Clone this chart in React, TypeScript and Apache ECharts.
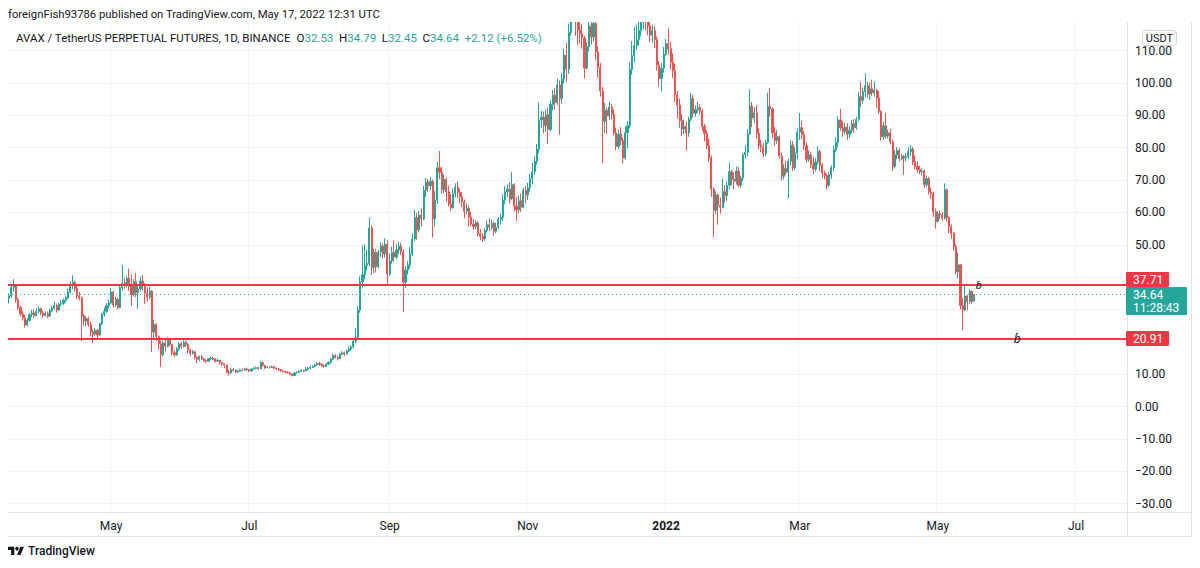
import React, { useEffect, useRef } from "react";
import * as echarts from "echarts";

const UP = "#26a69a";
const DOWN = "#ef5350";
const LEVEL = "#f23645";
const TEXT = "#131722";
const GRID = "#f0f3fa";
const BORDER = "#e0e3eb";
const FONT = "Roboto, 'Noto Sans', sans-serif";

// View starts on 17 Mar 2021 and runs into late July 2022 (empty future days)
const START_UTC = Date.UTC(2021, 2, 17);
const AXIS_DAYS = 494;
const FIRST_OPEN = 33.5;

// Daily candles as [close, low, high]; each session opens at the previous close
const mar2021 = [[34.2,31.8,35.0],[36.8,33.6,37.8],[37.5,35.5,39.4],[33.0,32.2,37.9],[30.6,29.8,33.6],[28.6,27.8,31.2],[27.4,26.5,29.5],[25.2,24.4,28.4],[26.6,24.8,27.4],[28.4,26.2,29.0],[28.9,27.6,29.9],[28.1,27.4,30.0],[29.4,27.9,30.5],[30.2,28.8,31.0],[29.0,28.2,30.6]];
const apr2021 = [[28.2,27.5,29.6],[28.8,27.8,29.5],[27.9,27.4,29.4],[29.6,27.8,30.2],[30.4,29.2,31.0],[31.2,30.0,32.4],[29.8,29.0,31.8],[31.6,29.6,32.0],[31.9,31.0,33.0],[32.8,31.4,33.4],
  [33.6,32.2,34.2],[35.4,33.2,36.5],[37.8,35.0,38.6],[38.4,36.2,40.6],[36.4,35.6,38.9],[34.2,33.1,37.2],[33.6,32.8,35.4],[28.0,20.2,34.0],[26.4,25.0,28.6],[27.2,24.8,28.0],
  [25.4,24.6,27.8],[23.0,21.6,26.2],[22.4,19.6,23.8],[23.6,21.8,24.3],[22.1,21.2,24.0],[25.6,21.9,26.0],[28.5,25.2,29.0],[29.4,27.8,30.6],[31.2,28.9,32.0],[32.0,30.4,33.0]];
const may2021 = [[35.4,31.6,36.6],[31.4,30.6,35.8],[33.2,30.8,34.0],[30.6,30.0,33.6],[36.8,30.4,37.6],[38.2,35.8,43.7],[37.4,36.4,39.8],[39.6,36.8,40.4],[37.2,35.8,42.6],[34.6,31.2,40.8],
  [38.6,34.0,39.4],[35.2,33.8,41.2],[36.4,30.2,37.8],[38.8,35.6,40.2],[37.4,36.0,40.6],[35.0,31.8,38.2],[33.8,32.4,36.8],[35.6,33.2,37.0],[23.0,16.8,36.0],[25.4,21.0,26.8],
  [21.6,20.2,25.8],[19.4,17.6,22.0],[16.0,12.2,20.4],[19.6,15.4,20.4],[18.6,17.0,20.6],[20.8,18.2,21.4],[19.2,18.6,21.0],[16.6,15.8,19.4],[16.0,15.2,17.4],[17.8,15.6,18.4],
  [19.4,17.2,19.9]];
const jun2021 = [[18.6,17.8,20.0],[19.8,18.2,20.5],[19.2,18.4,20.4],[17.6,16.4,19.6],[16.4,15.6,17.9],[16.9,16.0,17.5],[15.2,14.6,17.2],[14.6,13.4,15.6],[15.4,14.0,15.8],[14.8,14.4,16.0],
  [14.2,13.8,15.0],[14.0,13.4,14.6],[14.8,13.8,15.0],[15.0,14.4,15.5],[14.7,14.3,15.3],[14.0,13.6,14.9],[14.3,13.8,14.8],[13.6,13.0,14.4],[13.2,12.6,13.8],[12.8,11.8,13.3],
  [10.6,10.2,13.0],[10.4,9.6,11.4],[11.4,10.2,11.9],[11.2,10.8,11.9],[10.7,10.3,11.5],[10.9,10.4,11.3],[11.3,10.7,11.6],[11.2,10.9,11.7],[11.6,11.0,12.0],[11.4,11.1,12.0]];
const jul2021 = [[11.0,10.7,11.6],[11.6,10.8,11.8],[11.8,11.3,12.2],[12.0,11.5,12.4],[11.7,11.4,12.3],[13.6,11.6,14.1],[12.7,12.4,13.9],[12.0,11.6,12.9],[12.2,11.8,12.6],[12.1,11.8,12.5],
  [12.3,11.9,12.7],[11.9,11.6,12.5],[11.6,11.3,12.1],[11.4,11.0,11.9],[11.0,10.7,11.6],[10.8,10.5,11.3],[10.6,10.3,11.0],[10.4,10.1,10.9],[10.0,9.7,10.6],[9.6,9.3,10.2],
  [10.4,9.5,10.6],[10.6,10.2,10.9],[10.9,10.4,11.1],[11.2,10.7,11.5],[11.0,10.7,11.4],[11.6,10.9,12.2],[11.9,11.2,12.2],[12.1,11.7,12.5],[12.4,11.9,12.7],[12.8,12.1,13.1],
  [13.3,12.6,13.7]];
const aug2021 = [[13.0,12.6,13.8],[12.6,12.2,13.4],[12.4,12.0,13.0],[13.1,12.2,13.4],[13.6,12.8,14.0],[14.6,13.3,15.0],[15.8,14.4,16.4],[15.2,14.8,16.2],[14.8,14.2,15.6],[16.2,14.6,16.6],
  [16.6,15.8,17.2],[16.2,15.6,17.0],[17.2,16.0,17.6],[17.8,16.8,18.6],[18.4,17.2,19.0],[20.2,18.0,20.8],[21.4,19.6,24.2],[29.8,21.0,31.0],[38.6,29.0,40.2],[40.8,36.8,49.8],
  [43.6,39.4,50.2],[44.2,42.0,48.6],[55.2,43.4,58.5],[43.0,40.6,56.0],[47.6,41.2,48.8],[43.2,41.4,48.6],[47.8,42.6,48.4],[49.6,46.2,50.8],[47.2,45.8,50.4],[50.2,46.0,52.0],
  [41.0,38.0,51.4]];
const sep2021 = [[45.0,40.4,47.4],[47.6,44.2,49.4],[46.2,44.8,51.4],[48.4,45.6,50.2],[49.6,47.2,51.0],[47.8,46.8,50.6],[38.4,29.2,48.6],[42.2,36.6,43.4],[43.8,40.8,45.0],[47.2,42.6,49.4],
  [51.8,46.4,53.6],[58.4,51.2,60.8],[54.6,51.6,59.8],[59.2,53.8,60.4],[58.0,55.6,61.2],[66.8,57.6,68.2],[69.4,64.8,70.6],[68.2,66.4,70.4],[69.6,66.8,71.0],[58.0,52.2,70.2],
  [63.8,55.6,66.6],[73.8,62.6,75.6],[72.4,70.2,79.0],[67.0,65.8,74.0],[70.2,66.0,71.8],[66.4,63.4,70.8],[62.6,61.8,68.2],[61.4,60.4,65.6],[65.8,61.2,67.4],[67.8,64.6,69.0]];
const oct2021 = [[66.2,64.4,69.6],[64.8,62.8,67.4],[63.2,61.6,66.2],[60.4,58.2,64.0],[61.2,59.4,62.8],[58.6,55.6,62.2],[56.4,55.8,60.2],[55.6,54.6,58.0],[56.8,54.8,57.6],[53.4,52.6,57.2],
  [52.6,51.4,54.8],[51.8,50.8,53.6],[54.4,51.2,55.2],[56.2,53.8,57.6],[55.4,54.2,58.2],[56.6,54.6,57.8],[54.2,52.8,57.2],[55.4,53.6,56.8],[57.8,54.8,58.6],[58.4,56.2,59.6],
  [63.8,57.4,65.6],[66.4,62.6,68.2],[67.2,64.8,68.6],[64.2,62.8,69.4],[68.6,63.8,72.5],[62.0,60.4,69.0],[60.8,57.4,64.6],[63.6,59.6,65.2],[61.6,60.2,65.8],[66.8,61.4,67.6],
  [65.4,62.8,68.2]];
const nov2021 = [[67.6,63.8,69.2],[70.4,66.4,72.0],[72.6,68.8,75.4],[75.8,71.6,77.4],[79.6,74.8,81.2],[88.6,78.2,94.0],[89.4,86.2,91.4],[86.8,84.4,91.2],[90.2,84.8,91.8],[85.6,81.2,92.4],
  [93.4,85.0,94.6],[96.2,91.6,97.8],[94.0,91.8,98.4],[99.4,93.2,101.4],[95.2,84.0,100.8],[101.2,93.6,103.2],[108.6,99.8,110.6],[104.2,100.2,112.4],[115.6,102.8,118.4],[128.4,114.6,132.0],
  [131.6,124.2,146.2],[119.2,114.6,133.4],[116.4,111.8,124.6],[115.2,112.2,119.8],[113.8,110.6,118.2],[104.6,101.4,114.6],[111.2,104.2,112.6],[117.6,109.8,119.4],[114.2,112.0,121.6],[118.4,112.8,122.4]];
const dec2021 = [[109.6,107.2,119.6],[104.8,101.6,111.4],[97.6,95.8,106.2],[88.2,75.2,98.8],[91.6,84.6,93.8],[89.8,84.2,92.4],[92.6,88.6,94.2],[90.4,88.8,93.6],[84.6,83.8,91.8],[80.4,79.2,86.2],
  [84.2,79.6,85.6],[82.2,80.8,86.4],[76.8,75.2,83.0],[84.6,76.2,86.6],[86.8,79.8,88.2],[104.2,86.0,106.4],[108.4,102.6,113.0],[111.6,106.4,117.2],[113.4,110.2,118.0],[116.2,111.6,119.4],
  [118.8,114.4,122.8],[121.4,116.6,125.2],[119.8,116.2,124.0],[117.6,114.8,121.4],[114.8,112.6,119.2],[116.2,112.4,118.0],[113.4,110.8,117.6],[105.6,103.8,114.4],[101.4,98.8,106.8],[104.6,97.4,106.2],
  [108.8,103.2,111.2]];
const jan2022 = [[112.2,108.4,113.6],[110.6,108.8,117.0],[106.4,104.2,112.8],[103.8,101.6,109.2],[96.4,94.2,106.0],[93.2,89.0,97.6],[88.4,86.2,95.2],[85.8,83.6,90.4],[86.6,84.2,88.6],[84.6,79.2,88.2],
  [88.8,83.4,89.6],[95.2,88.2,97.0],[90.6,89.4,96.4],[91.8,89.6,93.0],[92.4,90.8,94.2],[91.2,90.2,93.4],[86.6,85.2,92.0],[84.4,82.0,87.4],[80.6,79.6,85.4],[76.8,75.6,82.8],
  [67.2,64.8,77.6],[60.6,52.4,67.8],[65.4,59.4,66.6],[62.2,56.2,65.8],[61.6,59.6,64.6],[66.4,61.4,70.4],[65.2,63.0,68.4],[68.4,63.6,69.6],[72.6,67.2,75.4],[70.2,68.4,73.2],
  [69.6,67.2,72.4]];
const feb2022 = [[72.8,68.6,74.2],[68.4,67.8,74.0],[70.6,67.6,71.4],[77.8,69.6,78.4],[78.6,76.8,80.8],[84.4,77.4,85.8],[92.8,84.0,98.0],[89.2,86.4,94.2],[90.8,87.6,92.6],[84.4,82.8,93.2],
  [80.8,79.6,86.0],[80.2,78.6,82.4],[78.2,77.0,81.4],[81.6,77.4,82.4],[92.8,81.2,97.0],[92.0,89.6,98.5],[84.6,83.0,92.4],[82.2,80.6,86.4],[83.4,81.2,85.6],[77.4,76.6,83.8],
  [71.2,69.8,78.4],[73.6,70.2,74.8],[72.4,71.6,76.0],[75.8,64.4,76.6],[80.8,74.6,82.4],[73.8,72.8,82.0],[78.4,73.2,80.2],[84.8,76.4,86.0]];
const mar2022 = [[86.2,82.4,90.7],[84.0,82.6,88.4],[80.6,79.4,85.2],[76.4,75.4,81.6],[77.8,75.6,79.2],[74.8,73.8,78.6],[73.4,71.8,77.2],[75.6,72.6,76.8],[78.8,74.8,80.5],[74.6,72.8,79.4],
  [72.2,70.6,75.2],[71.4,70.2,73.0],[68.4,67.0,72.0],[71.6,67.8,72.4],[73.8,70.4,74.6],[79.4,72.8,80.6],[81.6,78.6,83.2],[88.6,80.2,89.8],[86.2,85.2,92.0],[85.0,83.4,88.2],
  [86.4,84.2,87.8],[84.2,82.4,87.6],[85.4,83.0,86.6],[87.4,84.4,88.6],[86.2,84.6,88.8],[88.8,85.6,89.6],[95.8,88.2,97.2],[94.6,92.6,100.2],[97.4,93.6,98.6],[99.2,95.6,103.0],
  [96.6,95.4,100.4]];
const apr2022 = [[98.2,94.8,100.2],[97.0,96.0,101.0],[97.8,95.8,100.5],[95.4,92.2,98.2],[91.2,90.4,97.6],[83.4,82.2,91.6],[86.8,82.6,88.0],[83.6,82.8,90.7],[84.6,82.8,85.6],[81.8,81.2,85.8],
  [74.2,72.8,82.4],[77.8,73.6,79.2],[79.2,76.4,80.2],[76.6,75.8,79.8],[77.4,76.2,78.2],[76.8,71.6,77.8],[77.2,75.8,78.4],[78.8,76.4,80.2],[79.6,77.4,80.8],[75.6,74.6,80.2],
  [74.2,73.4,77.6],[73.2,72.4,75.8],[72.6,71.8,74.4],[72.8,71.4,73.6],[68.6,67.6,73.2],[70.4,67.8,71.2],[66.4,65.6,71.0],[65.8,64.2,67.6],[60.2,58.6,66.4],[57.2,55.0,61.2]];
const may2022 = [[59.6,56.8,60.4],[59.2,57.8,60.6],[58.2,57.4,60.2],[67.0,57.8,69.0],[58.4,57.2,67.4],[55.6,53.6,58.8],[53.6,51.8,56.2],[49.4,48.2,54.0],[41.6,40.8,50.2],[43.8,39.6,47.6],
  [31.2,30.0,44.0],[29.8,23.6,33.6],[34.2,29.6,37.5],[32.4,29.8,34.6],[35.6,31.6,36.2],[32.53,31.8,35.9],[34.64,32.45,34.79]];

const months = [mar2021, apr2021, may2021, jun2021, jul2021, aug2021, sep2021, oct2021, nov2021, dec2021, jan2022, feb2022, mar2022, apr2022, may2022];

// Horizontal levels drawn on the chart
const levels = [37.71, 20.91];
const lastPrice = 34.64;
const countdown = "11:28:43";

// Price scale
const priceMin = -32.6;
const priceMax = 118.86;
const gridTicks = [-30, -20, -10, 0, 10, 20, 30, 40, 50, 60, 70, 80, 90, 100, 110];
const labelTicks = [-30, -20, -10, 0, 10, 50, 60, 70, 80, 90, 100, 110];

const MONTH_NAMES = ["Jan", "Feb", "Mar", "Apr", "May", "Jun", "Jul", "Aug", "Sep", "Oct", "Nov", "Dec"];

// Category labels: one per calendar day
const days: string[] = [];
for (let i = 0; i < AXIS_DAYS; i++) {
  const d = new Date(START_UTC + i * 86400000);
  days.push(d.toISOString().slice(0, 10));
}

// Candles in ECharts order [open, close, low, high]
const candles: number[][] = [];
{
  let prev = FIRST_OPEN;
  for (const m of months) {
    for (const [c, l, h] of m) {
      const o = prev;
      candles.push([o, c, Math.min(l, o, c), Math.max(h, o, c)]);
      prev = c;
    }
  }
}

const isMonthMark = (_: number, value: string) => {
  const m = Number(value.slice(5, 7));
  return value.slice(8, 10) === "01" && m % 2 === 1;
};

// TradingView mark
echarts.graphic.registerShape(
  "tvMark",
  echarts.graphic.extendPath("M14 22H7V11H0V4h14v18zM28 22h-8l7.5-18h8L28 22z", {})
);

const option: any = {
  animation: false,
  backgroundColor: "#ffffff",
  textStyle: { fontFamily: FONT },
  grid: { left: 8, right: 73, top: 22, bottom: 56 },
  xAxis: {
    type: "category",
    data: days,
    boundaryGap: true,
    axisLine: { show: false },
    axisTick: { show: false },
    axisLabel: {
      interval: isMonthMark,
      margin: 8,
      color: TEXT,
      fontSize: 12,
      fontFamily: FONT,
      formatter: (v: string) => {
        const m = Number(v.slice(5, 7));
        return m === 1 ? `{y|${v.slice(0, 4)}}` : MONTH_NAMES[m - 1];
      },
      rich: { y: { fontWeight: "bold", fontSize: 12, color: TEXT, fontFamily: FONT } },
    },
    splitLine: { show: true, interval: isMonthMark, lineStyle: { color: GRID, width: 1 } },
  },
  yAxis: {
    type: "value",
    position: "right",
    min: priceMin,
    max: priceMax,
    scale: false,
    axisLine: { show: false },
    axisTick: { show: false, customValues: gridTicks },
    axisLabel: {
      customValues: labelTicks,
      margin: 8,
      color: TEXT,
      fontSize: 12,
      fontFamily: FONT,
      formatter: (v: number) => (v < 0 ? "\u2212" + Math.abs(v).toFixed(2) : v.toFixed(2)),
    },
    splitLine: { show: true, lineStyle: { color: GRID, width: 1 } },
  },
  series: [
    {
      type: "candlestick",
      data: candles,
      barWidth: 1.6,
      clip: true,
      itemStyle: {
        color: UP,
        color0: DOWN,
        borderColor: UP,
        borderColor0: DOWN,
        borderWidth: 1,
      },
      markLine: {
        silent: true,
        symbol: ["none", "none"],
        label: { show: false },
        data: [
          { yAxis: lastPrice, lineStyle: { color: UP, width: 1, type: [1, 3] } },
          ...levels.map((v) => ({ yAxis: v, lineStyle: { color: LEVEL, width: 2, type: "solid" } })),
        ],
      },
    },
  ],
};

export default function App() {
  const ref = useRef<HTMLDivElement>(null);
  useEffect(() => {
    document.body.style.margin = "0";
    const chart = echarts.init(ref.current!, null, { renderer: "svg" });
    chart.setOption(option);

    const yOf = (v: number) => chart.convertToPixel({ yAxisIndex: 0 }, v) as number;
    const xOf = (d: string) => chart.convertToPixel({ xAxisIndex: 0 }, d) as number;

    const yLast = yOf(lastPrice);
    const lastTop = Math.round(yLast - 7.5);
    const tagX = 1126;

    const levelTags = levels.map((v) => {
      let top = Math.round(yOf(v) - 7.5);
      if (top < lastTop + 28 && top + 15 > lastTop) {
        top = top < lastTop ? lastTop - 15 : lastTop + 28;
      }
      return [
        { type: "rect", shape: { x: tagX, y: top, width: 43, height: 15, r: 1 }, style: { fill: LEVEL }, z: 20 },
        {
          type: "text", x: tagX + 7, y: top + 7.5, z: 21,
          style: { text: v.toFixed(2), fill: "#ffffff", font: `12px ${FONT}`, verticalAlign: "middle" },
        },
      ];
    }).flat();

    const header = `{n|AVAX / TetherUS PERPETUAL FUTURES, 1D, BINANCE}  {k|O}{v|32.53}  {k|H}{v|34.79}  {k|L}{v|32.45}  {k|C}{v|34.64}  {v|+2.12 (+6.52%)}`;

    const elements: any[] = [
      // strip above the pane: keeps tall candles cut at the pane's top edge
      { type: "rect", shape: { x: 0, y: 0, width: 1200, height: 22 }, style: { fill: "#ffffff" }, z: 9 },
      // frame
      { type: "line", shape: { x1: 8, y1: 512.5, x2: 1192, y2: 512.5 }, style: { stroke: BORDER, lineWidth: 1 }, z: 5 },
      { type: "line", shape: { x1: 1127.5, y1: 22, x2: 1127.5, y2: 536 }, style: { stroke: BORDER, lineWidth: 1 }, z: 5 },
      { type: "line", shape: { x1: 1191.5, y1: 22, x2: 1191.5, y2: 536 }, style: { stroke: BORDER, lineWidth: 1 }, z: 5 },
      { type: "line", shape: { x1: 8, y1: 536.5, x2: 1192, y2: 536.5 }, style: { stroke: BORDER, lineWidth: 1 }, z: 5 },
      // publication line
      {
        type: "text", x: 8, y: 14, z: 10,
        style: {
          text: "foreignFish93786 published on TradingView.com, May 17, 2022 12:31 UTC",
          fill: TEXT, font: `11.3px ${FONT}`, verticalAlign: "middle",
        },
      },
      // symbol legend
      {
        type: "text", x: 16, y: 38, z: 10,
        style: {
          text: header,
          font: `11.5px ${FONT}`,
          fill: TEXT,
          verticalAlign: "middle",
          rich: {
            n: { fill: TEXT, font: `11.5px ${FONT}` },
            k: { fill: TEXT, font: `11.5px ${FONT}` },
            v: { fill: UP, font: `11.5px ${FONT}` },
          },
        },
      },
      // currency badge
      { type: "rect", shape: { x: 1142.5, y: 30.5, width: 34, height: 15, r: 3 }, style: { fill: "#ffffff", stroke: "#d1d4dc", lineWidth: 1 }, z: 10 },
      {
        type: "text", x: 1159.5, y: 38, z: 11,
        style: { text: "USDT", fill: TEXT, font: `11px ${FONT}`, align: "center", verticalAlign: "middle" },
      },
      // last price tag
      { type: "rect", shape: { x: tagX, y: lastTop, width: 61, height: 28, r: 1 }, style: { fill: UP }, z: 20 },
      {
        type: "text", x: tagX + 7, y: lastTop + 7.5, z: 21,
        style: { text: lastPrice.toFixed(2), fill: "#ffffff", font: `12px ${FONT}`, verticalAlign: "middle" },
      },
      {
        type: "text", x: tagX + 7, y: lastTop + 20.5, z: 21,
        style: { text: countdown, fill: "#ffffff", font: `12px ${FONT}`, verticalAlign: "middle" },
      },
      ...levelTags,
      // hand-placed text marks on the chart
      {
        type: "text", x: xOf("2022-05-19"), y: yOf(37.4), z: 15,
        style: { text: "\u0253", fill: TEXT, font: `italic 11px ${FONT}`, align: "center", verticalAlign: "middle" },
      },
      {
        type: "text", x: xOf("2022-06-05"), y: yOf(21.0), z: 15,
        style: { text: "\u0253", fill: TEXT, font: `italic 12px ${FONT}`, align: "center", verticalAlign: "middle" },
      },
      // footer mark
      { type: "tvMark", x: 8, y: 545, scaleX: 0.45, scaleY: 0.45, style: { fill: TEXT }, z: 10 },
      { type: "circle", shape: { cx: 8 + 20 * 0.45, cy: 545 + 8 * 0.45, r: 4 * 0.45 }, style: { fill: TEXT }, z: 10 },
      {
        type: "text", x: 28, y: 551, z: 10,
        style: { text: "TradingView", fill: TEXT, font: `500 12px ${FONT}`, verticalAlign: "middle" },
      },
    ];

    chart.setOption({ graphic: { elements } });
    return () => chart.dispose();
  }, []);
  return <div ref={ref} style={{ width: 1200, height: 568 }} />;
}
